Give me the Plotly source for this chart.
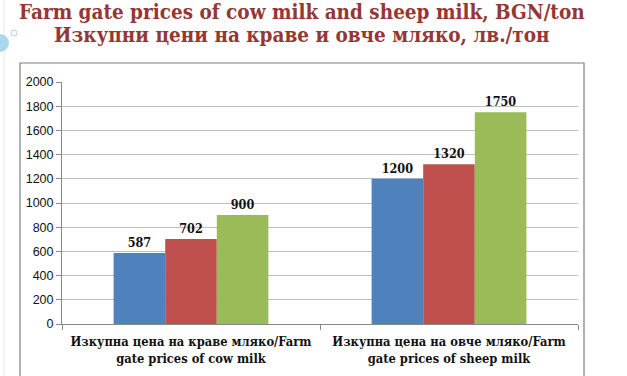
import plotly.graph_objects as go

categories = ["Изкупна цена на краве мляко/Farm<br>gate prices of cow milk",
              "Изкупна цена на овче мляко/Farm<br>gate prices of sheep milk"]
series_a = [587, 1200]
series_b = [702, 1320]
series_c = [900, 1750]
colors = ["#4F81BD", "#C0504D", "#9BBB59"]
y_ticks = [0, 200, 400, 600, 800, 1000, 1200, 1400, 1600, 1800, 2000]

fig = go.Figure()
for vals, col in zip([series_a, series_b, series_c], colors):
    fig.add_trace(go.Bar(
        x=categories, y=vals, marker=dict(color=col, line=dict(width=0)),
        text=[str(v) for v in vals], textposition="outside", cliponaxis=False,
        textfont=dict(family="DejaVu Serif Condensed", size=12.5, color="#111111", weight="bold"),
        showlegend=False))

W, H = 627, 376
L, R, T, B = 62, 49, 82, 52
pw, ph = W - L - R, H - T - B

def px(x):
    return (x - L) / pw

def py(y):
    return (H - B - y) / ph

fig.update_layout(
    width=W, height=H,
    margin=dict(l=L, r=R, t=T, b=B, autoexpand=False),
    paper_bgcolor="white", plot_bgcolor="white",
    barmode="group", bargap=0.4, bargroupgap=0,
    annotations=[
        dict(text="<b>Farm gate prices of cow milk and sheep milk, BGN/ton</b>",
             xref="paper", yref="paper", x=px(302), y=py(12), xanchor="center", yanchor="middle",
             showarrow=False, font=dict(family="DejaVu Serif Condensed", size=20.5, color="#953735")),
        dict(text="<b>Изкупни цени на краве и овче мляко, лв./тон</b>",
             xref="paper", yref="paper", x=px(302), y=py(35), xanchor="center", yanchor="middle",
             showarrow=False, font=dict(family="DejaVu Serif Condensed", size=20.5, color="#953735")),
    ],
    shapes=[
        dict(type="rect", xref="paper", yref="paper", x0=px(20), x1=px(584), y0=py(390), y1=py(63),
             line=dict(color="#7F7F7F", width=1.2), layer="below"),
        dict(type="line", xref="paper", yref="paper", x0=px(4), x1=px(4), y0=py(376), y1=py(0),
             line=dict(color="#E3E8EE", width=1), layer="below"),
        dict(type="circle", xref="paper", yref="paper", x0=px(-9), x1=px(9), y0=py(52), y1=py(34),
             line=dict(width=0), fillcolor="#A9D8EE"),
        dict(type="circle", xref="paper", yref="paper", x0=px(11), x1=px(17), y0=py(36), y1=py(30),
             line=dict(color="#A9D8EE", width=1), fillcolor="white"),
    ],
)
fig.update_yaxes(range=[0, 2000], tickvals=y_ticks, showgrid=True, gridcolor="#BFBFBF",
                 gridwidth=1, showline=True, linecolor="#888888", ticks="outside",
                 ticklen=5, tickcolor="#888888", automargin=False,
                 tickfont=dict(family="Liberation Sans", size=12.5, color="#111111"),
                 zeroline=False)
fig.update_xaxes(showline=True, linecolor="#888888", ticks="outside", tickson="boundaries",
                 ticklen=5, tickcolor="#888888", automargin=False, ticklabelstandoff=6,
                 tickfont=dict(family="DejaVu Serif Condensed", size=12.8, color="#111111", weight="bold"))
fig.write_html("out.html", config={"displayModeBar": False},
               post_script="document.body.style.margin='0';document.body.style.overflow='hidden';")
